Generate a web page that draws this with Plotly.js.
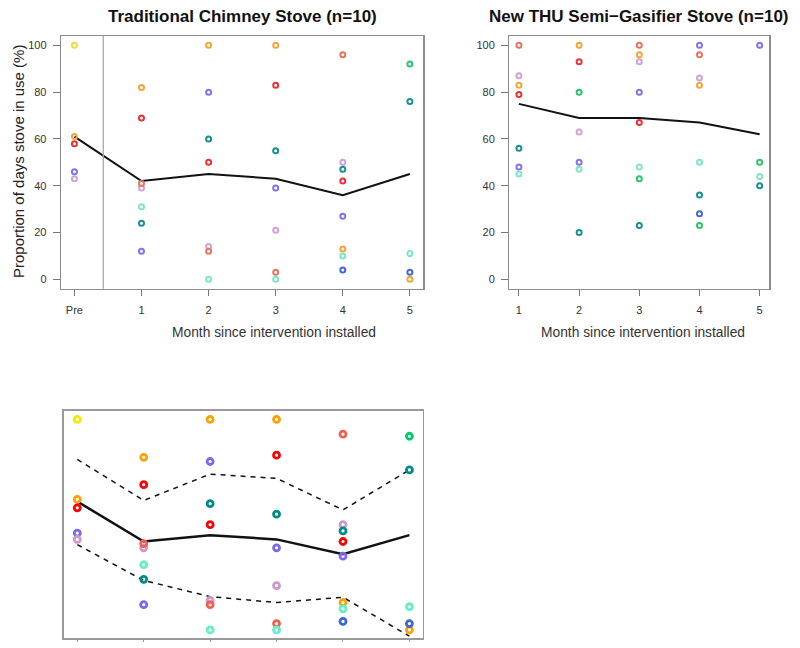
<!DOCTYPE html>
<html>
<head>
<meta charset="utf-8">
<script src="https://cdn.plot.ly/plotly-3.0.1.min.js"></script>
<style>
html,body{margin:0;padding:0;background:#fff;}
#chart{width:800px;height:648px;}
</style>
</head>
<body>
<div id="chart"></div>
<script>
// ---------- DATA ----------
const monthTickLabelsTrad = ["Pre", "1", "2", "3", "4", "5"];
const monthsTrad = [0, 1, 2, 3, 4, 5];
const monthsNew = [1, 2, 3, 4, 5];
const monthTickLabelsNew = ["1", "2", "3", "4", "5"];
const yTicks = [0, 20, 40, 60, 80, 100];

const householdColours = ["yellow", "orange", "red", "purple", "plum", "coral", "aquamarine", "teal", "royalblue", "green"];

// Traditional chimney stove (top left), by household colour, Pre..5
const tradYellow     = [100, null, null, null, null, null];
const tradOrange     = [61, 82, 100, 100, 13, 0];
const tradRed        = [58, 69, 50, 83, 42, null];
const tradPurple     = [46, 12, 80, 39, 27, null];
const tradPlum       = [43, 39, 14, 21, 50, null];
const tradCoral      = [null, 41, 12, 3, 96, null];
const tradAquamarine = [null, 31, 0, 0, 10, 11];
const tradTeal       = [null, 24, 60, 55, 47, 76];
const tradRoyalblue  = [null, null, null, null, 4, 3];
const tradGreen      = [null, null, null, null, null, 92];
const tradMean       = [61, 42, 45, 43, 36, 45];
const interventionLineX = 0.43;

// New THU semi-gasifier stove (top right), months 1..5
const newCoral      = [100, null, 100, 96, null];
const newPlum       = [87, 63, 93, 86, null];
const newOrange     = [83, 100, 96, 83, null];
const newRed        = [79, 93, 67, null, null];
const newTeal       = [56, 20, 23, 36, 40];
const newPurple     = [48, 50, 80, 100, 100];
const newAquamarine = [45, 47, 48, 50, 44];
const newGreen      = [null, 80, 43, 23, 50];
const newRoyalblue  = [null, null, null, 28, null];
const newYellow     = [null, null, null, null, null];
const newMean       = [75, 69, 69, 67, 62];

// Bottom panel (traditional stove, with band), Pre..5
const botYellow     = [100, null, null, null, null, null];
const botOrange     = [62, 82, 100, 100, 13, 0];
const botRed        = [58, 69, 50, 83, 42, null];
const botPurple     = [46, 12, 80, 39, 35, null];
const botPlum       = [43, 39, 14, 21, 50, null];
const botCoral      = [null, 41, 12, 3, 93, null];
const botAquamarine = [null, 31, 0, 0, 10, 11];
const botTeal       = [null, 24, 60, 55, 47, 76];
const botRoyalblue  = [null, null, null, null, 4, 3];
const botGreen      = [null, null, null, null, null, 92];
const botMean       = [61, 42, 45, 43, 36, 45];
const botUpper      = [81, 61.5, 74, 72, 57, 76];
const botLower      = [40.5, 23.5, 15.8, 13, 15.5, -3];

// ---------- STYLE ----------
const softColours = {
  yellow: "#EEDC3C", orange: "#F5A53A", red: "#E8333A", purple: "#8474E4",
  plum: "#D2A2D8", coral: "#E87560", aquamarine: "#7FE6C6", teal: "#16918F",
  royalblue: "#4468D8", green: "#2EC46E"
};
const strongColours = {
  yellow: "#F2EA00", orange: "#FFA200", red: "#FF0000", purple: "#7B68EE",
  plum: "#CC99CC", coral: "#F06050", aquamarine: "#66EEC4", teal: "#008B8B",
  royalblue: "#3E64DE", green: "#00CC66"
};

const tradSeries = [tradYellow, tradOrange, tradRed, tradPurple, tradPlum, tradCoral, tradAquamarine, tradTeal, tradRoyalblue, tradGreen];
const newSeries  = [newYellow, newOrange, newRed, newPurple, newPlum, newCoral, newAquamarine, newTeal, newRoyalblue, newGreen];
const botSeries  = [botYellow, botOrange, botRed, botPurple, botPlum, botCoral, botAquamarine, botTeal, botRoyalblue, botGreen];

const W = 800, H = 648;
const px = v => v / W;
const py = v => 1 - v / H;
const FONT = "Liberation Sans, Arial, Helvetica, sans-serif";

const traces = [];
function addPoints(series, xs, xa, ya, colours, size, lw) {
  series.forEach((vals, i) => {
    const c = colours[householdColours[i]];
    traces.push({
      type: "scatter", mode: "markers", x: xs, y: vals, xaxis: xa, yaxis: ya,
      marker: {symbol: "circle-open", size: size, color: c, line: {color: c, width: lw}},
      showlegend: false, hoverinfo: "skip", cliponaxis: true
    });
  });
}
function addLine(xs, ys, xa, ya, width, dash) {
  traces.push({
    type: "scatter", mode: "lines", x: xs, y: ys, xaxis: xa, yaxis: ya,
    line: {color: "#111", width: width, dash: dash || "solid"},
    showlegend: false, hoverinfo: "skip"
  });
}

addLine(monthsTrad, tradMean, "x", "y", 2);
addPoints(tradSeries, monthsTrad, "x", "y", softColours, 5, 2);
addLine(monthsNew, newMean, "x2", "y2", 2);
addPoints(newSeries, monthsNew, "x2", "y2", softColours, 5, 2);
addLine(monthsTrad, botMean, "x3", "y3", 2.5);
addLine(monthsTrad, botUpper, "x3", "y3", 1.5, "5px,5px");
addLine(monthsTrad, botLower, "x3", "y3", 1.5, "5px,5px");
addPoints(botSeries, monthsTrad, "x3", "y3", strongColours, 6, 2.8);

const boxColor = "#8c8c8c";
const tickFont = {family: FONT, size: 11, color: "#333"};
function xAxis(dom, range, vals, text, anchor) {
  return {
    domain: dom, range: range, anchor: anchor, tickmode: "array", tickvals: vals, ticktext: text,
    showgrid: false, zeroline: false, showline: true, mirror: true, linecolor: boxColor, linewidth: 1.3,
    ticks: "outside", ticklen: 6, tickcolor: "#777", tickwidth: 1, tickfont: tickFont, ticklabelstandoff: 5,
    fixedrange: true
  };
}
function yAxis(dom, anchor) {
  return {
    domain: dom, range: [-4, 104], anchor: anchor, tickmode: "array", tickvals: yTicks,
    showgrid: false, zeroline: false, showline: true, mirror: true, linecolor: boxColor, linewidth: 1.3,
    ticks: "outside", ticklen: 7, tickcolor: "#777", tickwidth: 1, tickfont: tickFont, ticklabelstandoff: 4,
    fixedrange: true
  };
}

const topY = [py(288.7), py(36)];
const layout = {
  width: W, height: H, margin: {l: 0, r: 0, t: 0, b: 0},
  paper_bgcolor: "#fff", plot_bgcolor: "#fff",
  font: {family: FONT},
  xaxis: xAxis([px(61), px(423.3)], [-0.2, 5.2], monthsTrad, monthTickLabelsTrad, "y"),
  yaxis: yAxis(topY, "x"),
  xaxis2: xAxis([px(509.3), px(769.3)], [0.84, 5.16], monthsNew, monthTickLabelsNew, "y2"),
  yaxis2: yAxis(topY, "x2"),
  xaxis3: Object.assign(xAxis([px(64), px(422.7)], [-0.2, 5.2], monthsTrad, monthTickLabelsTrad, "y3"),
                        {showticklabels: false, ticklen: 2, linecolor: "#999", linewidth: 1.6, tickcolor: "#999"}),
  yaxis3: Object.assign(yAxis([py(638.3), py(411)], "x3"),
                        {showticklabels: false, ticks: "", linecolor: "#999", linewidth: 1.6}),
  shapes: [{
    type: "line", xref: "x", yref: "y domain", x0: interventionLineX, x1: interventionLineX, y0: 0, y1: 1,
    line: {color: "#a8a8a8", width: 1.3}
  }],
  annotations: [
    {text: "<b>Traditional Chimney Stove (n=10)</b>", x: px(242), y: py(16), xref: "paper", yref: "paper",
     showarrow: false, xanchor: "center", yanchor: "middle", font: {family: FONT, size: 17, color: "#111"}},
    {text: "<b>New THU Semi\u2212Gasifier Stove (n=10)</b>", x: px(638.5), y: py(16), xref: "paper", yref: "paper",
     showarrow: false, xanchor: "center", yanchor: "middle", font: {family: FONT, size: 17, color: "#111"}},
    {text: "Month since intervention installed", x: px(274), y: py(333), xref: "paper", yref: "paper",
     showarrow: false, xanchor: "center", yanchor: "middle", font: {family: FONT, size: 13.8, color: "#333"}},
    {text: "Month since intervention installed", x: px(643), y: py(333), xref: "paper", yref: "paper",
     showarrow: false, xanchor: "center", yanchor: "middle", font: {family: FONT, size: 13.8, color: "#333"}},
    {text: "Proportion of days stove in use (%)", x: px(18), y: py(162), xref: "paper", yref: "paper",
     showarrow: false, xanchor: "center", yanchor: "middle", textangle: -90, font: {family: FONT, size: 15, color: "#222"}}
  ]
};

Plotly.newPlot("chart", traces, layout, {staticPlot: true, displayModeBar: false});
</script>
</body>
</html>
